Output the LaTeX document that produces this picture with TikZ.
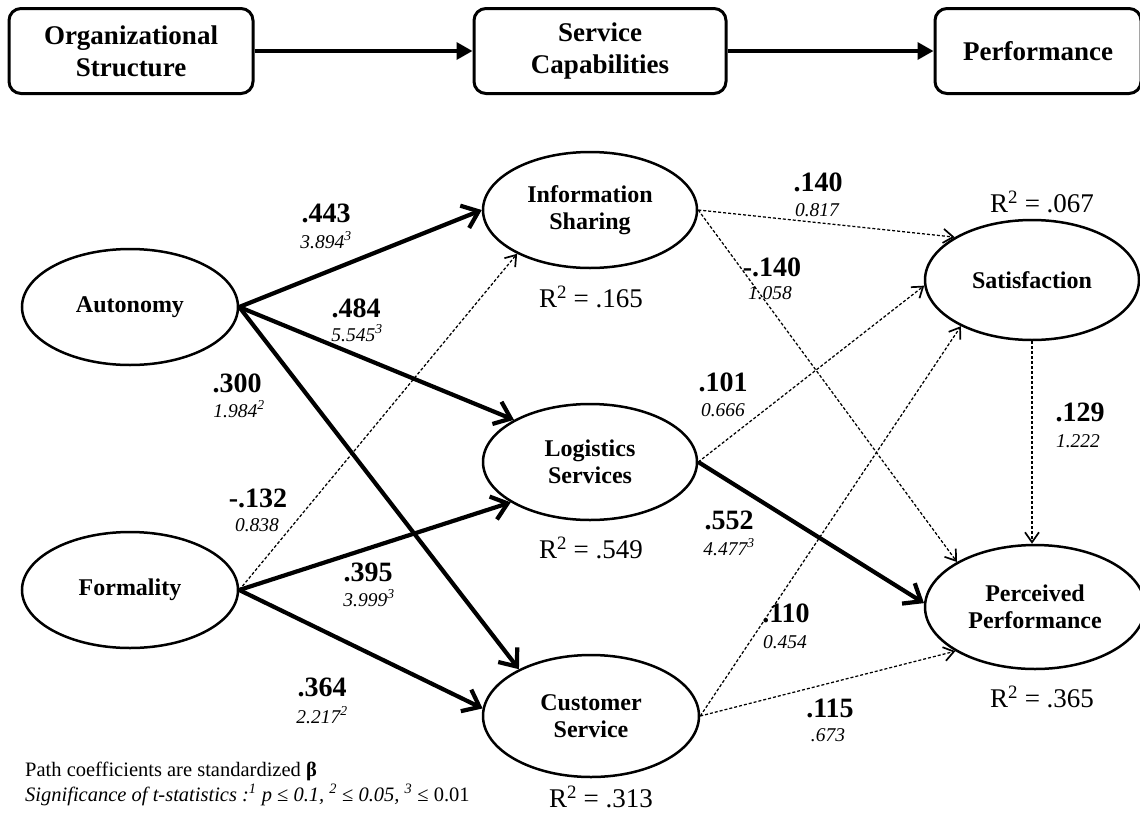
\documentclass[tikz,border=0pt]{standalone}
\usepackage{fontspec}
\setmainfont{Liberation Serif}
\usetikzlibrary{shapes.geometric,arrows.meta}
\tikzset{
  lat/.style={ellipse, draw, line width=2.5pt, inner sep=0pt, align=center,
    font=\bfseries\fontsize{24}{27}\selectfont},
  topbox/.style={rectangle, rounded corners=12pt, draw, line width=3pt, inner sep=0pt,
    align=center, minimum height=85pt, font=\bfseries\fontsize{27}{32}\selectfont},
  toparrow/.style={line width=3.5pt, -{Triangle[length=16pt,width=17pt]}},
  pathS/.style={line width=4.2pt, -{Straight Barb[length=15pt,width=24pt]}},
  pathW/.style={line width=1.25pt, dash pattern=on 3pt off 2pt,
    -{Straight Barb[length=10pt,width=14pt,line width=1.7pt]}},
  coef/.style={inner sep=0pt, font=\bfseries\fontsize{28}{28}\selectfont},
  tval/.style={inner sep=0pt, font=\itshape\fontsize{19.5}{19.5}\selectfont},
  rsq/.style={inner sep=0pt, font=\fontsize{27}{27}\selectfont},
  note/.style={inner sep=0pt, anchor=west, font=\fontsize{20.5}{20.5}\selectfont},
}
\begin{document}
\begin{tikzpicture}[x=1pt,y=-1pt]
\useasboundingbox (0,0) rectangle (1140,814);
% top boxes
\node[topbox, minimum width=244pt] (b1) at (131,51) {Organizational\\Structure};
\node[topbox, minimum width=252pt] (b2) at (600,51) {Service\\Capabilities};
\node[topbox, minimum width=206pt] (b3) at (1038,51) {Performance};
\draw[toparrow] (b1) -- (b2);
\draw[toparrow] (b2) -- (b3);
% latent variables
\node[lat, minimum width=216pt, minimum height=116pt] (auto) at (130,307) {Autonomy};
\node[lat, minimum width=216pt, minimum height=116pt] (form) at (130,590) {Formality};
\node[lat, minimum width=214pt, minimum height=116pt] (info) at (590,210) {Information\\Sharing};
\node[lat, minimum width=214pt, minimum height=116pt] (log) at (590,462) {Logistics\\Services};
\node[lat, minimum width=216pt, minimum height=122pt] (cust) at (591,716) {Customer\\Service};
\node[lat, minimum width=214pt, minimum height=120pt] (sat) at (1032,280) {Satisfaction};
\node[lat, minimum width=220pt, minimum height=124pt] (perf) at (1035,607) {Perceived\\Performance};
% R squared
\node[rsq] (r1) at (591,297) {R\textsuperscript{2} = .165};
\node[rsq] (r2) at (591,548) {R\textsuperscript{2} = .549};
\node[rsq] (r3) at (601,797) {R\textsuperscript{2} = .313};
\node[rsq] (r4) at (1042,202) {R\textsuperscript{2} = .067};
\node[rsq] (r5) at (1042,697) {R\textsuperscript{2} = .365};
% strong paths
\draw[pathS] (auto.east) -- (info.west);
\draw[pathS] (auto.east) -- (log.151);
\draw[pathS] (auto.east) -- (cust.147);
\draw[pathS] (form.east) -- (log.207);
\draw[pathS] (form.east) -- (cust.176);
\draw[pathS] (log.east) -- (perf.178);
% weak paths
\draw[pathW] (form.east) -- (info.211);
\draw[pathW] (info.east) -- (sat.151);
\draw[pathW] (info.east) -- (perf.150);
\draw[pathW] (log.east) -- (sat.183);
\draw[pathW] (cust.east) -- (sat.213);
\draw[pathW] (cust.east) -- (perf.209);
\draw[pathW] (sat.south) -- (sat.south |- perf.north);
% coefficients
\node[coef] (c1) at (326,213) {.443};
\node[tval] (t1) at (326,240) {3.894\textsuperscript{3}};
\node[coef] (c2) at (356,308) {.484};
\node[tval] (t2) at (357,333) {5.545\textsuperscript{3}};
\node[coef] (c3) at (237,383) {.300};
\node[tval] (t3) at (239,409) {1.984\textsuperscript{2}};
\node[coef] (c4) at (258,498) {-.132};
\node[tval] (t4) at (257,525) {0.838};
\node[coef] (c5) at (368,572) {.395};
\node[tval] (t5) at (369,598) {3.999\textsuperscript{3}};
\node[coef] (c6) at (322,687) {.364};
\node[tval] (t6) at (322,715) {2.217\textsuperscript{2}};
\node[coef] (c7) at (818,182) {.140};
\node[tval] (t7) at (817,210) {0.817};
\node[coef] (c8) at (772,267) {-.140};
\node[tval] (t8) at (770,293) {1.058};
\node[coef] (c9) at (723,382) {.101};
\node[tval] (t9) at (723,410) {0.666};
\node[coef] (c10) at (729,520) {.552};
\node[tval] (t10) at (729,547) {4.477\textsuperscript{3}};
\node[coef] (c11) at (786,613) {.110};
\node[tval] (t11) at (785,642) {0.454};
\node[coef] (c12) at (830,708) {.115};
\node[tval] (t12) at (828,735) {.673};
\node[coef] (c13) at (1080,412) {.129};
\node[tval] (t13) at (1078,441) {1.222};
% notes
\node[note] (n1) at (25,771) {Path coefficients are standardized \textbf{β}};
\node[note] (n2) at (25,795) {\textit{Significance of t-statistics :\textsuperscript{1} p} ≤ \textit{0.1, \textsuperscript{2}} ≤ \textit{0.05, \textsuperscript{3}} ≤ 0.01};
\end{tikzpicture}
\end{document}
